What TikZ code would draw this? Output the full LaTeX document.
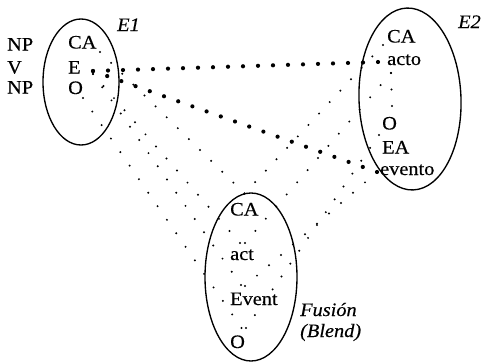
\documentclass[tikz,border=0pt]{standalone}
\usepackage{fontspec}
\setmainfont{Liberation Serif}[FakeStretch=1.07,FakeBold=0.4]
\usetikzlibrary{calc}
\tikzset{
  lab/.style={anchor=base west, inner sep=0pt, font=\fontsize{19}{19}\selectfont},
  ilab/.style={anchor=base west, inner sep=0pt, font=\fontsize{19}{19}\selectfont\itshape},
  space/.style={draw, line width=1.35pt},
}
\newcommand\mydots[4]{%
  \foreach \i in {0,...,#3}{\fill ($(#1)!{\i/#3}!(#2)$) circle (#4);}}
\begin{document}
\begin{tikzpicture}[x=1pt,y=-1pt]
\useasboundingbox (0,0) rectangle (483,362);
% spaces
\draw[space] (81,82) ellipse [x radius=38pt, y radius=63pt];
\draw[space, rotate around={2:(410,99)}] (410,99) ellipse [x radius=51pt, y radius=91pt];
\draw[space] (251,277) ellipse [x radius=46pt, y radius=84pt];
% labels E1
\node[lab] (np1) at (7,50.5) {NP};
\node[lab] (v1) at (7,73.5) {V};
\node[lab] (np2) at (7,93.5) {NP};
\node[lab] (ca1) at (68,48.5) {CA};
\node[lab] (e1) at (68,73.5) {E};
\node[lab] (o1) at (68,94) {O};
\node[ilab] (lE1) at (117,31) {E1};
% labels E2
\node[lab] (ca2) at (387,42.5) {CA};
\node[lab] (acto) at (387,65) {acto};
\node[lab] (o2) at (382,129.5) {O};
\node[lab] (ea2) at (382,153.5) {EA};
\node[lab] (evento) at (380,175) {evento};
\node[ilab] (lE2) at (458,28) {E2};
% labels blend
\node[lab] (ca3) at (230,215.5) {CA};
\node[lab] (act3) at (230,260) {act};
\node[lab] (ev3) at (230,305) {Event};
\node[lab] (o3) at (230,348) {O};
\node[ilab] (lfus) at (300,316) {Fusión};
\node[ilab] (lbl) at (300,337) {(Blend)};
% anchor points of the mappings
\coordinate (e1ca) at (100,52);
\coordinate (e1e) at (93,71);
\coordinate (e1eb) at (93,74);
\coordinate (e1o) at (83,98);
\coordinate (e2ca) at (383,45);
\coordinate (e2acto) at (378,62);
\coordinate (e2actob) at (391,73);
\coordinate (e2v) at (392,106);
\coordinate (e2o) at (379,135);
\coordinate (e2ev) at (377,172);
\coordinate (fca) at (244.5,193.5);
\coordinate (factL) at (240,243);
\coordinate (factR) at (245,243);
\coordinate (fevL) at (241,285);
\coordinate (fevR) at (245,286);
\coordinate (foL) at (241.5,328);
\coordinate (foR) at (246,328);
% cross-space mapping (heavy dots)
\mydots{e1e}{e2acto}{19}{2.1pt}
\mydots{e1e}{e2ev}{20}{2.1pt}
% projections (fine dots)
\mydots{e1ca}{fca}{13}{1.1pt}
\mydots{e1eb}{factL}{14}{1.1pt}
\mydots{e1eb}{fevL}{16}{1.1pt}
\mydots{e1o}{foL}{17}{1.1pt}
\mydots{e2ca}{fca}{13}{1.1pt}
\mydots{e2actob}{factR}{14}{1.1pt}
\mydots{e2o}{foR}{15}{1.1pt}
\mydots{e2ev}{fevR}{11}{1.1pt}
\mydots{e2actob}{e2v}{2}{1.1pt}
\end{tikzpicture}
\end{document}
